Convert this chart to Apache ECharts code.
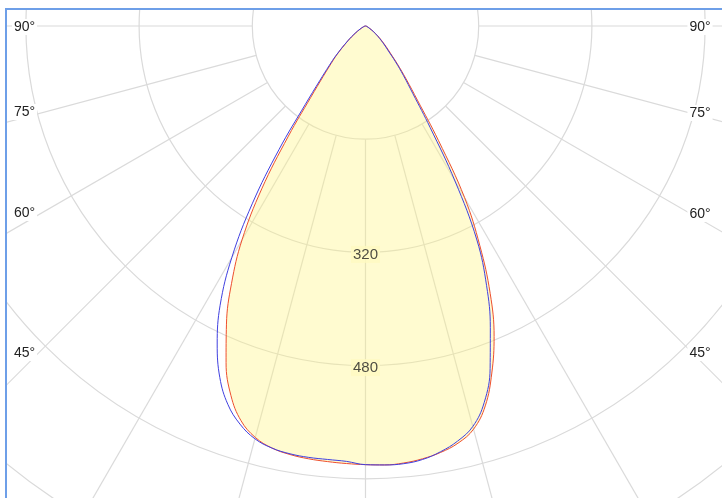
<!DOCTYPE html>
<html><head><meta charset="utf-8">
<script src="https://cdn.jsdelivr.net/npm/echarts@6/dist/echarts.min.js"></script>
<style>
html,body{margin:0;padding:0;background:#fff;overflow:hidden;width:722px;height:498px}
#wrap{position:absolute;left:5px;top:8px;width:717px;height:490px;border-left:2px solid #6e9fe8;border-top:2px solid #6e9fe8;overflow:hidden;background:#fff}
#chart{width:715px;height:488px}
</style></head><body><div id="wrap"><div id="chart"></div></div>
<script>
// gamma angles (degrees from nadir) and luminous intensities (cd)
const gamma      = [0, 2.5, 5, 7.5, 10, 12.5, 15, 17.5, 20, 22.5, 25, 27.5, 30, 32.5, 35, 37.5, 40, 42.5, 45, 50, 55, 60, 70, 80, 90];
const redLeft    = [620, 619, 618, 617, 615, 611, 602, 585, 556, 515, 465, 410, 349, 273, 190, 127, 93, 72, 57, 32, 17, 9, 3, 1, 0];
const redRight   = [620, 621, 620, 617, 612, 604, 590, 563, 522, 475, 417, 350, 280, 192, 128, 94, 70, 52, 41, 25, 14, 7, 3, 1, 0];
const blueLeft   = [620, 616, 615, 615, 614, 611, 604, 590, 569, 538, 496, 445, 378, 298, 213, 140, 100, 76, 59, 33, 18, 9, 3, 1, 0];
const blueRight  = [620, 621, 621, 618, 611, 601, 586, 558, 515, 461, 405, 341, 253, 170, 117, 88, 66, 48, 38, 23, 13, 6, 2, 1, 0];
const radialTickStep = 160;
const radialLabels = [320, 480];
const angleLabels = ['90°', '75°', '60°', '45°'];

// layout
const CENTER = [358.5, 16];
const R_PX = 640;
const PX_PER_CD = 113.2 / 160;
const RMAX = R_PX / PX_PER_CD;
const leftLabelPos  = [[17.5, 17], [17.5, 102], [17.5, 203], [17.5, 343]];
const rightLabelPos = [[693, 17], [693, 103], [693, 204], [693, 343]];

function build(left, right) {
  const pts = [];
  for (let i = gamma.length - 1; i >= 0; i--) pts.push([left[i], gamma[i]]);
  for (let i = 1; i < gamma.length; i++) pts.push([right[i], 360 - gamma[i]]);
  return pts;
}

const GRID = '#dadada';
const angTicks = [];
for (let v = 0; v <= 360; v += 15) angTicks.push(v);
const angColors = angTicks.map(v => (v <= 90 || v >= 270) ? GRID : 'rgba(0,0,0,0)');

const hiddenAxis = {axisLine:{show:false}, axisTick:{show:false}, axisLabel:{show:false}};

const textStyle = {fontFamily:'Arial, "Liberation Sans", sans-serif', fontSize:14, fill:'#222',
  textAlign:'center', textVerticalAlign:'middle', backgroundColor:'#fff', padding:[1,2]};
const graphics = [];
angleLabels.forEach((t, i) => {
  graphics.push({type:'text', x:leftLabelPos[i][0], y:leftLabelPos[i][1], z:100, style:Object.assign({text:t}, textStyle)});
  graphics.push({type:'text', x:rightLabelPos[i][0], y:rightLabelPos[i][1], z:100, style:Object.assign({text:t}, textStyle)});
});

const chart = echarts.init(document.getElementById('chart'), null, {renderer:'canvas'});
chart.setOption({
  animation: false,
  backgroundColor: '#fff',
  polar: [
    {center: CENTER, radius: [0, R_PX]},
    {center: CENTER, radius: [radialTickStep * PX_PER_CD, R_PX]}
  ],
  angleAxis: [
    Object.assign({polarIndex:0, type:'value', min:0, max:360, interval:15, startAngle:270, clockwise:true,
      splitLine:{show:false}}, hiddenAxis),
    Object.assign({polarIndex:1, type:'value', min:0, max:360, interval:15, startAngle:270, clockwise:true,
      splitLine:{show:true, lineStyle:{color:angColors, width:1.2}}}, hiddenAxis)
  ],
  radiusAxis: [
    Object.assign({polarIndex:0, type:'value', min:0, max:RMAX, interval:radialTickStep,
      splitLine:{show:true, lineStyle:{color:GRID, width:1.2}}}, hiddenAxis),
    Object.assign({polarIndex:1, type:'value', min:0, max:1, splitLine:{show:false}}, hiddenAxis)
  ],
  series: [
    {type:'line', name:'C0-C180', coordinateSystem:'polar', polarIndex:0, data: build(redLeft, redRight),
      smooth:0.4, showSymbol:false, silent:true, z:2,
      lineStyle:{color:'#ee4f2e', width:1},
      areaStyle:{color:'rgba(255,245,125,0.52)'}},
    {type:'line', name:'C90-C270', coordinateSystem:'polar', polarIndex:0, data: build(blueLeft, blueRight),
      smooth:0.4, showSymbol:false, silent:true, z:3,
      lineStyle:{color:'#4040e0', width:1}},
    {type:'scatter', coordinateSystem:'polar', polarIndex:0, data: radialLabels.map(v => [v, 0]),
      symbolSize:1, itemStyle:{color:'rgba(0,0,0,0)'}, silent:true, z:5,
      label:{show:true, position:'inside', offset:[0,2], formatter: p => String(p.value[0]),
        fontFamily:'Arial, "Liberation Sans", sans-serif', fontSize:15, color:'#222',
        backgroundColor:'#fffac0', padding:[1,2]}}
  ],
  graphic: graphics
});
</script></body></html>
